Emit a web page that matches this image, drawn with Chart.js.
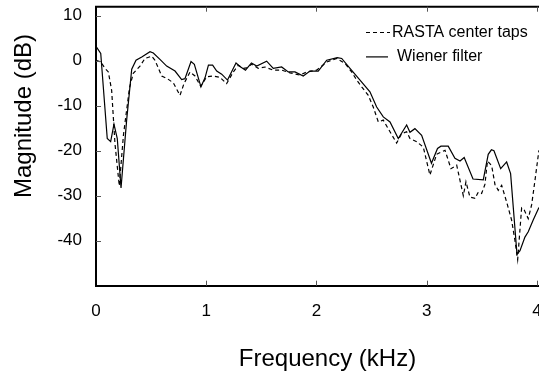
<!DOCTYPE html>
<html>
<head>
<meta charset="utf-8">
<script src="https://cdn.jsdelivr.net/npm/chart.js@4.4.1/dist/chart.umd.min.js"></script>
<style>
html, body { margin: 0; padding: 0; overflow: hidden; background: #fff; }
#box { width: 570px; height: 371px; }
</style>
</head>
<body>
<div id="box"><canvas id="grp" width="570" height="371"></canvas></div>
<script>
// frequency (kHz) and magnitude (dB)
const wienerKhz = [0, 0.043, 0.102, 0.133, 0.163, 0.193, 0.227, 0.278, 0.324, 0.363, 0.415, 0.490, 0.520, 0.580, 0.641, 0.717, 0.777, 0.807, 0.862, 0.892, 0.952, 0.989, 1.020, 1.058, 1.095, 1.140, 1.193, 1.270, 1.306, 1.356, 1.410, 1.458, 1.548, 1.608, 1.684, 1.744, 1.805, 1.880, 1.941, 2.016, 2.093, 2.189, 2.229, 2.304, 2.395, 2.485, 2.546, 2.606, 2.667, 2.742, 2.818, 2.848, 2.893, 2.954, 3.043, 3.098, 3.129, 3.195, 3.256, 3.302, 3.340, 3.420, 3.513, 3.558, 3.587, 3.610, 3.671, 3.725, 3.761, 3.819, 3.846, 3.891, 3.921, 3.966, 4.018]
const wienerDb = [3.2, 1.6, -17.3, -18.0, -14.1, -17.3, -28.3, -13.2, -1.9, 0.1, 0.8, 2.0, 1.7, 0.3, -1.2, -2.3, -4.2, -4.0, -0.2, -0.8, -5.8, -3.8, -1.0, -1.0, -2.3, -3.0, -4.3, -0.5, -1.3, -2.1, -0.5, -1.2, -0.1, -1.7, -1.4, -2.5, -2.5, -3.4, -2.3, -2.3, 0.1, 0.7, 0.5, -1.7, -4.3, -6.9, -10.3, -12.5, -13.6, -17.3, -14.3, -15.9, -15.1, -16.6, -22.8, -19.5, -19.0, -19.0, -21.7, -22.3, -21.5, -26.3, -26.5, -20.8, -19.8, -20.0, -24.0, -22.5, -25.1, -43.0, -42.2, -39.2, -38.0, -35.4, -32.6]

const rastaKhz = [0, 0.043, 0.082, 0.112, 0.142, 0.172, 0.211, 0.249, 0.304, 0.338, 0.399, 0.444, 0.505, 0.535, 0.596, 0.647, 0.701, 0.762, 0.798, 0.853, 0.898, 0.950, 1.004, 1.064, 1.125, 1.185, 1.245, 1.291, 1.336, 1.367, 1.412, 1.472, 1.533, 1.608, 1.684, 1.760, 1.850, 1.911, 2.002, 2.093, 2.183, 2.259, 2.319, 2.365, 2.410, 2.470, 2.515, 2.561, 2.606, 2.667, 2.727, 2.773, 2.818, 2.848, 2.909, 2.969, 3.029, 3.090, 3.166, 3.220, 3.272, 3.302, 3.332, 3.356, 3.392, 3.438, 3.468, 3.498, 3.528, 3.551, 3.589, 3.619, 3.649, 3.680, 3.725, 3.770, 3.800, 3.825, 3.861, 3.885, 3.921, 3.952, 3.982, 4.018]
const rastaDb = [0.1, -0.3, -1.7, -2.5, -6.6, -18.4, -27.8, -16.5, -6.0, -2.8, -1.2, 0.5, 1.0, 0.1, -3.4, -4.0, -4.9, -7.7, -5.1, -2.5, -3.4, -5.7, -3.6, -3.4, -3.7, -5.1, -2.5, -1.0, -1.7, -1.6, -0.8, -1.7, -1.4, -2.1, -2.1, -2.7, -3.2, -2.5, -2.1, -0.3, 0.5, -0.6, -2.5, -4.3, -5.8, -7.7, -10.3, -13.6, -13.2, -15.8, -18.3, -16.2, -15.8, -17.3, -18.0, -19.2, -25.4, -20.8, -19.9, -24.0, -23.2, -26.6, -30.0, -26.9, -30.3, -30.6, -29.2, -29.5, -27.5, -22.3, -23.3, -27.5, -28.8, -27.7, -31.4, -35.4, -39.9, -44.2, -32.7, -33.2, -35.1, -32.0, -26.6, -19.9]

const xTicks = [0, 1, 2, 3, 4]
const yTicks = [-40, -30, -20, -10, 0, 10]
const seriesNames = ["RASTA center taps", "Wiener filter"]

const font = "'Liberation Sans', Arial, sans-serif"
const toPoints = (xs, ys) => xs.map((x, i) => ({x: x, y: ys[i]}))

// top border, inward tick marks, y title, legend
const frame = {
  id: "frame",
  afterDraw(chart) {
    const ctx = chart.ctx
    const a = chart.chartArea
    const x = chart.scales.x, y = chart.scales.y
    ctx.save()
    ctx.strokeStyle = "#000"
    ctx.lineWidth = 2
    ctx.beginPath()
    ctx.moveTo(a.left - 1, a.top)
    ctx.lineTo(a.right, a.top)
    ctx.stroke()

    ctx.strokeStyle = "#555"
    ctx.lineWidth = 1
    ctx.beginPath()
    xTicks.forEach(v => {
      if (v === 0) return
      const px = Math.round(x.getPixelForValue(v)) + 0.5
      ctx.moveTo(px, a.top); ctx.lineTo(px, a.top + 5)
      ctx.moveTo(px, a.bottom); ctx.lineTo(px, a.bottom - 5)
    })
    yTicks.forEach(v => {
      const py = Math.round(y.getPixelForValue(v)) + 0.5
      ctx.moveTo(a.left, py); ctx.lineTo(a.left + 5, py)
    })
    ctx.stroke()

    ctx.fillStyle = "#000"
    ctx.textBaseline = "middle"
    ctx.save()
    ctx.font = "24px " + font
    ctx.textAlign = "center"
    ctx.translate(24, 116)
    ctx.rotate(-Math.PI / 2)
    ctx.fillText("Magnitude (dB)", 0, 0)
    ctx.restore()

    ctx.font = "16px " + font
    ctx.textAlign = "left"
    ctx.strokeStyle = "#000"
    ctx.lineWidth = 1.2
    chart.data.datasets.forEach((ds, i) => {
      const ly = 32.5 + i * 24.4
      ctx.setLineDash(ds.borderDash || [])
      ctx.beginPath()
      ctx.moveTo(366, ly)
      ctx.lineTo(i ? 388 : 390, ly)
      ctx.stroke()
      ctx.setLineDash([])
      ctx.fillText(ds.label, i ? 397 : 392, ly)
    })
    ctx.restore()
  }
}

const config = {
  type: "scatter",
  data: {
    datasets: [{
      label: seriesNames[0],
      data: toPoints(rastaKhz, rastaDb),
      showLine: true,
      borderColor: "#000",
      borderWidth: 1.2,
      borderDash: [4, 3],
      pointRadius: 0,
      fill: false
    }, {
      label: seriesNames[1],
      data: toPoints(wienerKhz, wienerDb),
      showLine: true,
      borderColor: "#000",
      borderWidth: 1.2,
      pointRadius: 0,
      fill: false
    }]
  },
  options: {
    responsive: false,
    animation: false,
    devicePixelRatio: 1,
    layout: { padding: { left: 0, right: 11, top: 6.7, bottom: 0 } },
    plugins: { legend: { display: false }, tooltip: { enabled: false } },
    scales: {
      x: {
        type: "linear",
        min: 0,
        max: 4.2,
        afterBuildTicks: s => { s.ticks = xTicks.map(v => ({value: v})) },
        afterFit: s => { s.height = 85.3; s.paddingLeft = 0; s.paddingRight = 0 },
        grid: { drawOnChartArea: false, drawTicks: false },
        border: { display: true, color: "#000", width: 2 },
        ticks: { padding: 15, color: "#000", font: { family: font, size: 17 } },
        title: { display: true, text: "Frequency (kHz)", color: "#000", font: { family: font, size: 24, lineHeight: 1 }, padding: 0 }
      },
      y: {
        min: -50,
        max: 12,
        afterBuildTicks: s => { s.ticks = yTicks.map(v => ({value: v})) },
        afterFit: s => { s.width = 96; s.paddingTop = 0; s.paddingBottom = 0 },
        grid: { drawOnChartArea: false, drawTicks: false },
        border: { display: true, color: "#000", width: 2 },
        ticks: { padding: 14, color: "#000", font: { family: font, size: 17 } }
      }
    }
  },
  plugins: [frame]
}

const grp = new Chart(document.getElementById("grp").getContext("2d"), config)
</script>
</body>
</html>
